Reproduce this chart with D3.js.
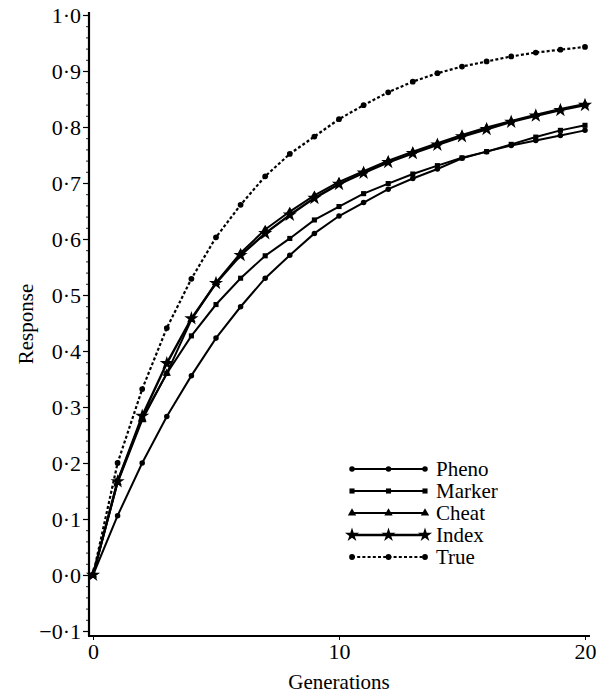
<!DOCTYPE html>
<html>
<head>
<meta charset="utf-8">
<script src="https://cdn.jsdelivr.net/npm/d3@7"></script>
<style>
  body { margin: 0; background: #fff; }
  svg { display: block; font-family: "Liberation Serif", "Times New Roman", serif; }
</style>
</head>
<body>
<div class="graph"></div>
<script>
// generations 0..20
const generations = d3.range(0, 21)

// response per generation
const pheno  = [0, 0.106, 0.200, 0.283, 0.356, 0.423, 0.479, 0.530, 0.571, 0.610, 0.641, 0.665, 0.689, 0.708, 0.725, 0.744, 0.756, 0.767, 0.776, 0.785, 0.794]
const marker = [0, 0.168, 0.280, 0.360, 0.427, 0.483, 0.530, 0.570, 0.601, 0.634, 0.658, 0.681, 0.699, 0.716, 0.731, 0.745, 0.756, 0.769, 0.782, 0.794, 0.803]
const cheat  = [0, 0.165, 0.277, 0.360, 0.456, 0.522, 0.575, 0.617, 0.649, 0.678, 0.702, 0.721, 0.740, 0.756, 0.771, 0.786, 0.799, 0.811, 0.822, 0.832, 0.841]
const index  = [0, 0.167, 0.284, 0.378, 0.458, 0.521, 0.571, 0.610, 0.643, 0.673, 0.698, 0.718, 0.737, 0.753, 0.768, 0.783, 0.796, 0.809, 0.820, 0.830, 0.839]
const trueR  = [0, 0.200, 0.332, 0.441, 0.529, 0.603, 0.661, 0.712, 0.752, 0.783, 0.814, 0.839, 0.862, 0.881, 0.896, 0.908, 0.917, 0.926, 0.933, 0.938, 0.943]

const seriesNames = ['Pheno', 'Marker', 'Cheat', 'Index', 'True']
const seriesValues = [pheno, marker, cheat, index, trueR]

const xTicks = [0, 10, 20]
const yTicks = [-0.1, 0, 0.1, 0.2, 0.3, 0.4, 0.5, 0.6, 0.7, 0.8, 0.9, 1.0]

const W = 604, H = 694
const svg = d3.select('.graph').append('svg').attr('width', W).attr('height', H)

const x = d3.scaleLinear().domain([0, 20]).range([93, 585])
const y = d3.scaleLinear().domain([-0.1, 1.0]).range([631, 15])

const axisX = 89   // y axis sits a bit left of x=0
const axisY = 636  // x axis sits a bit below -0.1
const tickFont = 22

const fmt = v => d3.format('.1f')(v).replace('.', '\u00b7').replace('-', '\u2212')

// y axis: minor ticks every 0.02
const minor = d3.range(-0.1, 1.0001, 0.02).map(v => +v.toFixed(2))
svg.append('g')
  .attr('transform', `translate(${axisX},0)`)
  .call(d3.axisLeft(y).tickValues(minor).tickSize(3).tickFormat(''))
  .call(g => g.select('.domain').remove())
  .call(g => g.selectAll('line').attr('stroke', '#222').attr('stroke-width', 1))

svg.append('g')
  .attr('transform', `translate(${axisX},0)`)
  .call(d3.axisLeft(y).tickValues(yTicks).tickSize(6).tickPadding(2).tickFormat(fmt))
  .call(g => g.select('.domain').remove())
  .call(g => g.selectAll('line').attr('stroke', '#000').attr('stroke-width', 1.2))
  .call(g => g.selectAll('text').attr('font-size', tickFont).attr('font-family', '"Liberation Serif", serif').attr('fill', '#000'))

// x axis
svg.append('g')
  .attr('transform', `translate(0,${axisY})`)
  .call(d3.axisBottom(x).tickValues(xTicks).tickSize(4).tickPadding(3).tickFormat(d3.format('d')))
  .call(g => g.select('.domain').remove())
  .call(g => g.selectAll('line').attr('stroke', '#000').attr('stroke-width', 1))
  .call(g => g.selectAll('text').attr('font-size', tickFont).attr('font-family', '"Liberation Serif", serif').attr('fill', '#000'))

// axis lines
svg.append('line').attr('x1', axisX).attr('x2', axisX).attr('y1', 12).attr('y2', axisY)
  .attr('stroke', '#000').attr('stroke-width', 2.2)
svg.append('line').attr('x1', axisX - 1).attr('x2', 590).attr('y1', axisY).attr('y2', axisY)
  .attr('stroke', '#000').attr('stroke-width', 2.2)

// axis titles
svg.append('text').text('Generations')
  .attr('x', 339).attr('y', 689).attr('text-anchor', 'middle').attr('font-size', 21)
svg.append('text').text('Response')
  .attr('transform', 'translate(33,324) rotate(-90)').attr('text-anchor', 'middle').attr('font-size', 21)

// per-series styles
const styles = [
  { symbol: d3.symbolCircle,   size: 24, width: 2.0, dash: null },
  { symbol: d3.symbolSquare,   size: 26, width: 2.0, dash: null },
  { symbol: d3.symbolTriangle, size: 30, width: 2.0, dash: null },
  { symbol: d3.symbolStar,     size: 62, width: 2.4, dash: null },
  { symbol: d3.symbolCircle,   size: 26, width: 2.2, dash: '3,2.2' },
]

const line = d3.line().x((d, i) => x(generations[i])).y(d => y(d))

seriesValues.forEach((vals, k) => {
  const st = styles[k]
  const g = svg.append('g').attr('class', 'series-' + seriesNames[k])
  g.append('path')
    .attr('d', line(vals))
    .attr('fill', 'none')
    .attr('stroke', '#000')
    .attr('stroke-width', st.width)
    .attr('stroke-dasharray', st.dash)
  g.selectAll('path.pt')
    .data(vals)
    .enter()
    .append('path')
    .attr('class', 'pt')
    .attr('transform', (d, i) => `translate(${x(generations[i])},${y(d)})`)
    .attr('d', d3.symbol().type(st.symbol).size(st.size))
    .attr('fill', '#000')
})

// legend
const legend = svg.append('g').attr('class', 'legend')
const legRows = seriesNames.map((n, k) => ({ name: n, k, y: 469 + k * 22 }))
legRows.forEach(r => {
  const st = styles[r.k]
  const g = legend.append('g').attr('transform', `translate(0,${r.y})`)
  g.append('line').attr('x1', 352).attr('x2', 425).attr('y1', 0).attr('y2', 0)
    .attr('stroke', '#000').attr('stroke-width', st.width).attr('stroke-dasharray', st.dash)
  ;[352, 388.5, 425].forEach(px => {
    g.append('path').attr('transform', `translate(${px},0)`)
      .attr('d', d3.symbol().type(st.symbol).size(st.size)).attr('fill', '#000')
  })
  g.append('text').text(r.name).attr('x', 436).attr('y', 0).attr('dy', '0.34em')
    .attr('font-size', 21)
})
</script>
</body>
</html>
